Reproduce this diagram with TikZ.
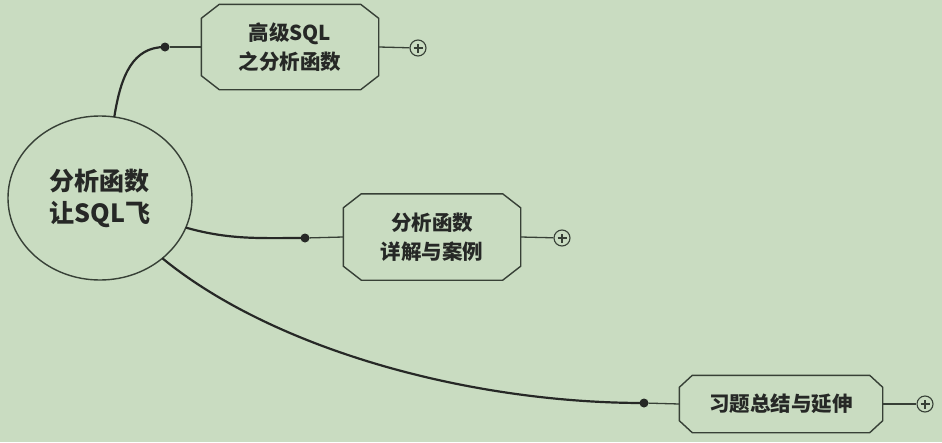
\documentclass[tikz,border=0pt]{standalone}
\usepackage{fontspec}
\setmainfont{Noto Sans CJK SC}
\usetikzlibrary{shapes.geometric}
\definecolor{bgc}{RGB}{201,220,193}
\definecolor{ink}{RGB}{38,40,38}
\definecolor{edgec}{RGB}{55,64,54}
\newcommand\chamfbox[3]{%
  \draw[boxline] ([xshift=#2]#1.north west) -- ([xshift=-#2]#1.north east)
    -- ([yshift=-#3]#1.north east) -- ([yshift=#3]#1.south east)
    -- ([xshift=-#2]#1.south east) -- ([xshift=#2]#1.south west)
    -- ([yshift=#3]#1.south west) -- ([yshift=-#3]#1.north west) -- cycle;}
\begin{document}
\begin{tikzpicture}[x=1pt,y=-1pt,
  boxtext/.style={draw=none,inner sep=0pt,align=center,text=ink,
    font=\bfseries\fontsize{20.5}{29}\selectfont},
  boxline/.style={draw=edgec,line width=1.4pt,line join=round},
  mainc/.style={draw=ink,line width=2.2pt,line cap=round},
  thinc/.style={draw=edgec,line width=1.3pt},
  knot/.style={circle,fill=ink,inner sep=0pt,minimum size=9pt},
  plusc/.style={circle,draw=edgec,line width=1.1pt,fill=bgc,inner sep=0pt,minimum size=16pt,
    path picture={\draw[edgec,line width=1.2pt]
      ([xshift=-4.5pt]path picture bounding box.center) -- ([xshift=4.5pt]path picture bounding box.center)
      ([yshift=-4.5pt]path picture bounding box.center) -- ([yshift=4.5pt]path picture bounding box.center);}}
]
\fill[bgc] (0,0) rectangle (942,442);
\useasboundingbox (0,0) rectangle (942,442);

\node[ellipse,draw=edgec,line width=1.4pt,minimum width=184pt,minimum height=164pt,
  inner sep=0pt,align=center,text=ink,font=\bfseries\fontsize{25}{32}\selectfont]
  (c) at (100,198) {分析函数\\让SQL飞};

\node[boxtext,minimum width=177pt,minimum height=85pt] (b1) at (290,47) {高级SQL\\之分析函数};
\chamfbox{b1}{18pt}{14pt}
\node[boxtext,minimum width=177pt,minimum height=86pt] (b2) at (432,237) {分析函数\\详解与案例};
\chamfbox{b2}{18pt}{14pt}
\node[boxtext,minimum width=203pt,minimum height=57pt] (b3) at (781,404) {习题总结与延伸};
\chamfbox{b3}{13pt}{12pt}

\node[knot] (k1) at (165,47) {};
\node[knot] (k2) at (305,238) {};
\node[knot] (k3) at (644,403) {};

\node[plusc] (p1) at (418,48) {};
\node[plusc] (p2) at (562,238) {};
\node[plusc] (p3) at (925,404) {};

\draw[mainc] (c.80) .. controls (121,75) and (133,47) .. (k1.center);
\draw[mainc] (c.-19) .. controls (230,240) and (260,238) .. (k2.center);
\draw[mainc] (c.-44) .. controls (275,350) and (470,403) .. (k3.center);

\draw[thinc] (k1) -- (b1.west);
\draw[thinc] (k2) -- (b2.west);
\draw[thinc] (k3) -- (b3.west);
\draw[thinc] (b1.east) -- (p1);
\draw[thinc] (b2.east) -- (p2);
\draw[thinc] (b3.east) -- (p3);
\end{tikzpicture}
\end{document}
